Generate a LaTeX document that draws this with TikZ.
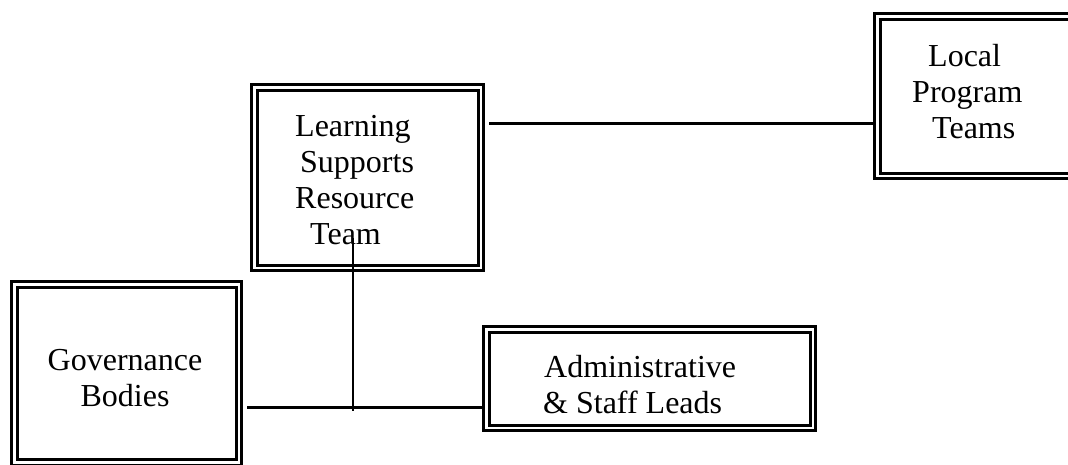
\documentclass[tikz,border=0pt]{standalone}
\usepackage{fontspec}
\setmainfont{Liberation Serif}
\usepackage{tikz}

\begin{document}
\begin{tikzpicture}[x=1pt,y=-1pt,
      box/.style={draw=black, line width=3pt, double=white,
        double distance=2.5pt, inner sep=0pt, outer sep=0pt},
      txt/.style={inner sep=0pt, font=\fontsize{32}{36}\selectfont},
      link/.style={line width=3pt},
      stem/.style={line width=1.8pt}]
      \useasboundingbox (0,0) rectangle (1068,464);
      % boxes
      \node[box, minimum width=226.5pt, minimum height=180.5pt] (lsrt) at (367.5,177.5) {};
      \node[box, minimum width=198.5pt, minimum height=159.5pt] (lpt) at (976.5,96) {};
      \node[box, minimum width=224.5pt, minimum height=178pt] (gov) at (126.5,373.25) {};
      \node[box, minimum width=326.5pt, minimum height=98.5pt] (adm) at (649.5,378.5) {};
      % texts
      \node[txt, align=left, anchor=west] (lsrt-t) at (295,180)
        {Learning\\\hspace{5pt}Supports\\Resource\\\hspace{15pt}Team};
      \node[txt, align=left, anchor=west] (lpt-t) at (912,92)
        {\hspace{16pt}Local\\Program\\\hspace{20pt}Teams};
      \node[txt, align=center] (gov-t) at (125,378) {Governance\\Bodies};
      \node[txt, align=left, anchor=west] (adm-t) at (544,385)
        {Administrative\\\hspace{-1pt}\& Staff Leads};
      % links
      \draw[link] ([xshift=8.25pt]lsrt.east |- 0,123) -- ([xshift=-4.25pt]lpt.west |- 0,123);
      \draw[link] ([xshift=8.25pt]gov.east |- 0,407) -- ([xshift=-4.25pt]adm.west |- 0,407);
      \draw[stem] ([shift={(-14.5,-29.75)}]lsrt.south) -- ([xshift=-14.5pt]lsrt.south |- 0,411);
    \end{tikzpicture}
\end{document}
